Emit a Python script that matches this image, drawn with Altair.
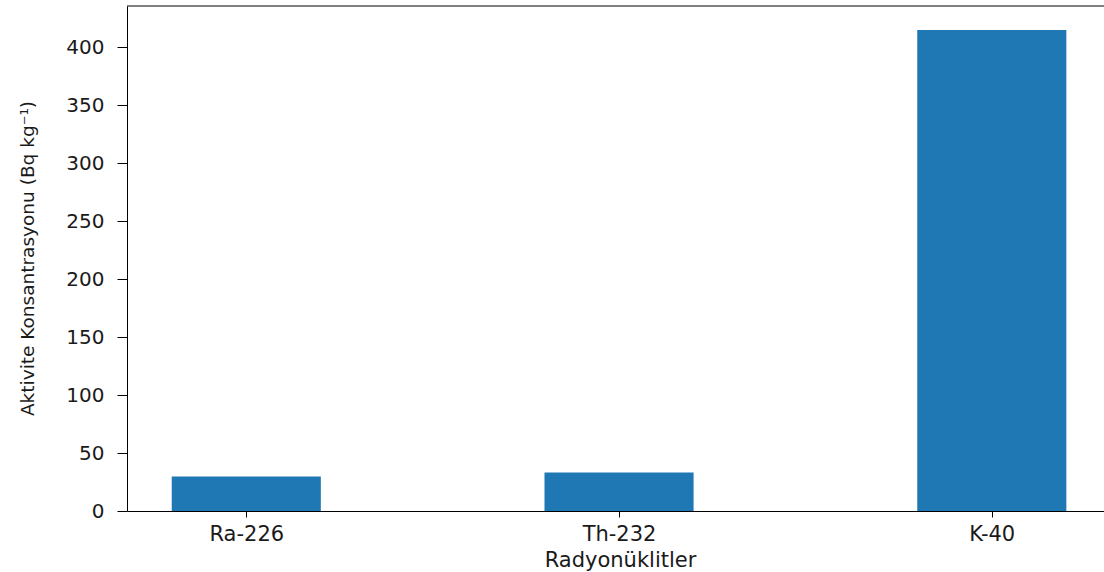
import json
import altair as alt
import pandas as pd

categories = ["Ra-226", "Th-232", "K-40"]
positions = [0, 1, 2]
values = [29.7, 33.2, 415.0]
y_ticks = [0, 50, 100, 150, 200, 250, 300, 350, 400]

df = pd.DataFrame({"pos": positions, "name": categories, "value": values})

W, H = 977, 505
label_expr = json.dumps(categories) + "[datum.value]"

bars = (
    alt.Chart(df)
    .transform_calculate(x0="datum.pos - 0.2", x1="datum.pos + 0.2")
    .mark_bar(color="#1f77b4")
    .encode(
        x=alt.X(
            "x0:Q",
            scale=alt.Scale(domain=[-0.32, 2.301], nice=False, zero=False),
            axis=alt.Axis(
                title="Radyonüklitler",
                values=positions,
                labelExpr=label_expr,
                grid=False,
                domainColor="#000000",
                domainWidth=1,
                tickColor="#000000",
                tickSize=6,
                labelFont="DejaVu Sans",
                labelFontSize=21,
                labelColor="#1a1a1a",
                labelBaseline="alphabetic",
                labelPadding=23,
                titleFont="DejaVu Sans",
                titleFontSize=21,
                titleFontWeight="normal",
                titleColor="#1a1a1a",
                titleBaseline="alphabetic",
                titleY=55,
                titleX=(620 - 127),
            ),
        ),
        x2="x1:Q",
        y=alt.Y(
            "value:Q",
            scale=alt.Scale(domain=[0, 435.75], nice=False),
            axis=alt.Axis(
                title="Aktivite Konsantrasyonu (Bq kg⁻¹)",
                values=y_ticks,
                grid=False,
                domainColor="#000000",
                domainWidth=1,
                tickColor="#000000",
                tickSize=10,
                labelFont="DejaVu Sans",
                labelFontSize=20,
                labelColor="#1a1a1a",
                labelPadding=13,
                titleFont="DejaVu Sans",
                titleFontSize=18.5,
                titleFontWeight="normal",
                titleColor="#1a1a1a",
                titleAngle=270,
                titleBaseline="alphabetic",
                titleX=-94,
                titleY=252,
            ),
        ),
        y2=alt.datum(0),
    )
)

top_spine = (
    alt.Chart(alt.Data(values=[{"k": 1}]))
    .mark_rule(color="#000000", strokeWidth=1)
    .encode(x=alt.value(0), x2=alt.value(W), y=alt.value(0))
)

chart = (
    alt.layer(bars, top_spine)
    .properties(
        width=W,
        height=H,
        autosize=alt.AutoSizeParams(type="none"),
        padding={"left": 127, "top": 6, "right": 0, "bottom": 61},
        background="#ffffff",
    )
    .configure_view(strokeWidth=0)
)

chart.save("out.html", embed_options={"renderer": "svg", "actions": False})
